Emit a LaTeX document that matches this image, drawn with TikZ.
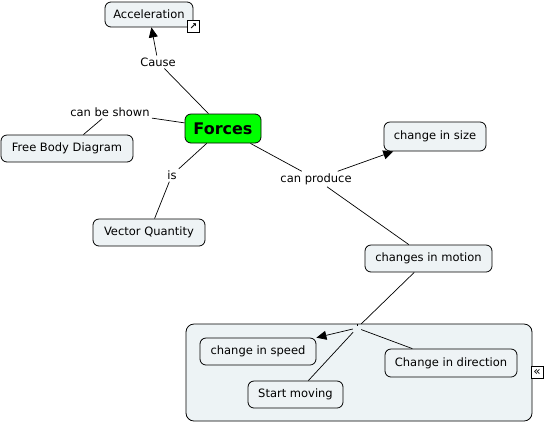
\documentclass[tikz,border=0pt]{standalone}
\usepackage{fontspec}
\setmainfont{DejaVu Sans}
\usetikzlibrary{arrows.meta}
\definecolor{boxfill}{HTML}{EEF3F5}
\definecolor{grpfill}{HTML}{EDF3F5}
\definecolor{forcegreen}{HTML}{00FF00}
\tikzset{
  concept/.style={draw=black, fill=boxfill, rounded corners=6pt, line width=0.8pt, inner sep=0pt, font=\fontsize{11.5}{13}\selectfont},
  linkph/.style={inner sep=2pt, font=\fontsize{11.5}{13}\selectfont, fill=white},
  conn/.style={line width=0.7pt},
  arr/.style={conn, -{Triangle[length=10pt,width=9pt]}},
  iconbox/.style={draw=black, fill=white, line width=0.7pt, minimum size=12pt, inner sep=0pt, font=\fontsize{9}{9}\selectfont\bfseries}
}
\begin{document}
\begin{tikzpicture}[x=1pt,y=-1pt]
\useasboundingbox (0,0) rectangle (545,424);
% group
\node[draw=black, fill=grpfill, rounded corners=8pt, line width=0.8pt, minimum width=346pt, minimum height=97pt, inner sep=0pt] (grp) at (359,372.5) {};
\node[iconbox, font=\fontsize{12}{12}\selectfont] (coll) at (537,372.5) {«};
% concepts
\node[concept, minimum width=88pt, minimum height=25pt] (acc) at (149,14.5) {Acceleration};
\node[iconbox] (icon) at (193.5,26.5) {↗};
\node[concept, fill=forcegreen, minimum width=76pt, minimum height=29pt, font=\fontsize{16}{18}\selectfont\bfseries] (forces) at (223,128.5) {Forces};
\node[concept, minimum width=132pt, minimum height=27pt] (fbd) at (67,148.5) {Free Body Diagram};
\node[concept, minimum width=112pt, minimum height=27pt] (vq) at (149,232.5) {Vector Quantity};
\node[concept, minimum width=102pt, minimum height=29pt] (size) at (435,136.5) {change in size};
\node[concept, minimum width=127pt, minimum height=27pt] (motion) at (428.5,258.5) {changes in motion};
\node[concept, minimum width=116pt, minimum height=27pt] (speed) at (258,351.5) {change in speed};
\node[concept, minimum width=132pt, minimum height=28pt] (dir) at (451,363) {Change in direction};
\node[concept, minimum width=95pt, minimum height=27pt] (start) at (295.5,394.5) {Start moving};
% linking phrases
\node[linkph] (cause) at (158,62) {Cause};
\node[linkph] (shown) at (110,112) {can be shown};
\node[linkph] (is) at (172,175) {is};
\node[linkph] (produce) at (316,179) {can produce};
\node[inner sep=4pt] (j) at (357,328) {};
\draw[line width=0.5pt] (j.center) ++(0,-4) -- ++(0,2);
% connectors
\draw[conn] (forces) -- (cause);
\draw[arr] (cause) -- (acc);
\draw[conn] (forces) -- (shown);
\draw[conn] (shown) -- (fbd);
\draw[conn] (forces) -- (is);
\draw[conn] (is) -- (vq);
\draw[conn] (forces) -- (produce);
\draw[arr] (produce) -- (size);
\draw[conn] (produce) -- (motion);
\draw[conn] (motion) -- (j);
\draw[arr] (j) -- (speed);
\draw[conn] (j) -- (start);
\draw[conn] (j) -- (dir);
\end{tikzpicture}
\end{document}
